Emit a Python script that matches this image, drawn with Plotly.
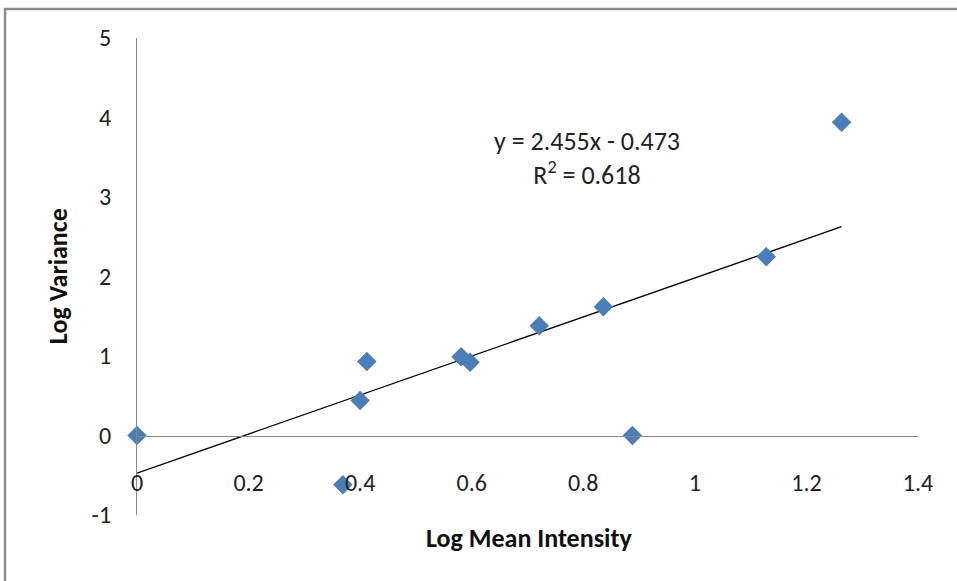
import plotly.graph_objects as go

# Data
log_mean = [0.0, 0.369, 0.400, 0.412, 0.581, 0.597, 0.721, 0.836, 0.888, 1.128, 1.263]
log_var = [0.0, -0.62, 0.44, 0.93, 0.99, 0.92, 1.38, 1.62, 0.0, 2.25, 3.94]

# Trendline (linear) as reported on chart
slope = 2.455
intercept = -0.473
r2 = 0.618
trend_x = [min(log_mean), max(log_mean)]
trend_y = [slope * v + intercept for v in trend_x]

x_ticks = [0, 0.2, 0.4, 0.6, 0.8, 1, 1.2, 1.4]
y_ticks = [-1, 0, 1, 2, 3, 4, 5]

x_title = "Log Mean Intensity"
y_title = "Log Variance"

FONT = "Calibri, Carlito, Lato, sans-serif"
AXIS_GRAY = "#8a8a8a"

fig = go.Figure()
fig.add_trace(go.Scatter(
    x=trend_x, y=trend_y, mode="lines",
    line=dict(color="black", width=1.3),
    showlegend=False, hoverinfo="skip",
))
fig.add_trace(go.Scatter(
    x=log_mean, y=log_var, mode="markers",
    marker=dict(symbol="diamond", size=15, color="#4A7EBB"),
    cliponaxis=False, showlegend=False,
))

fig.add_annotation(
    x=0.8075, y=3.49, xref="x", yref="y",
    text=f"y = {slope}x - {abs(intercept)}<br>R<sup>2</sup> = {r2}",
    showarrow=False, align="center",
    font=dict(family=FONT, size=26, color="#222"),
)

fig.add_annotation(
    x=0.502, y=-0.048, xref="paper", yref="paper",
    text=f"<b>{x_title}</b>", showarrow=False,
    xanchor="center", yanchor="middle",
    font=dict(family=FONT, size=26, color="#111"),
)
fig.add_annotation(
    x=-0.101, y=0.501, xref="paper", yref="paper",
    text=f"<b>{y_title}</b>", showarrow=False, textangle=-90,
    xanchor="center", yanchor="middle",
    font=dict(family=FONT, size=26, color="#111"),
)

fig.add_shape(type="rect", xref="paper", yref="paper",
              x0=-0.169, y0=-0.3, x1=1.2, y1=1.0608,
              line=dict(color="#8c8c8c", width=2.5), fillcolor="rgba(0,0,0,0)",
              layer="below")

fig.update_layout(
    width=957, height=581,
    margin=dict(l=137, r=39, t=38, b=66),
    paper_bgcolor="white", plot_bgcolor="white",
    font=dict(family=FONT, size=24, color="#222"),
    xaxis=dict(
        range=[0, 1.4], tickvals=x_ticks, ticktext=[f"{v:g}" for v in x_ticks],
        showgrid=False, zeroline=False, showline=True, linecolor=AXIS_GRAY, linewidth=1.3,
        anchor="free", position=1/6, ticks="", ticklabelstandoff=26,
    ),
    yaxis=dict(
        range=[-1, 5], tickvals=y_ticks, ticktext=[f"{v:g}" for v in y_ticks],
        showgrid=False, zeroline=False,
        showline=True, linecolor=AXIS_GRAY, linewidth=1.3, ticks="",
        ticklabelstandoff=20,
    ),
)

fig.write_html("out.html")
